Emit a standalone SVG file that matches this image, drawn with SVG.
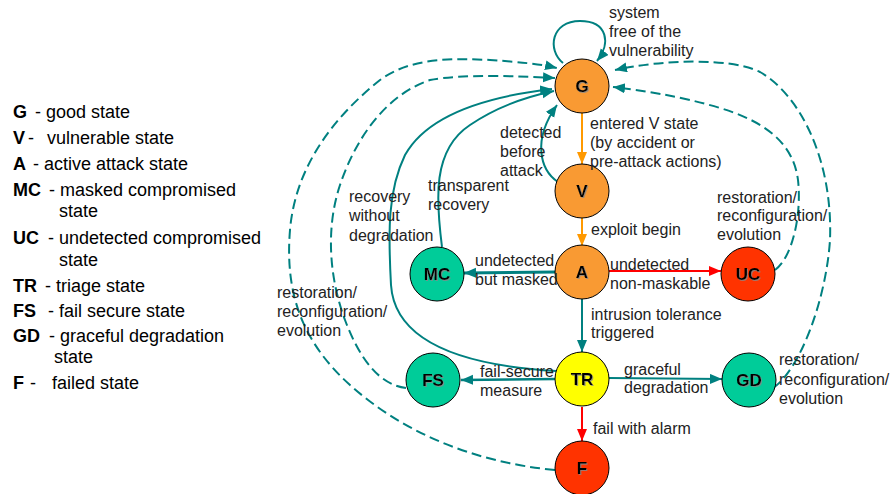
<svg xmlns="http://www.w3.org/2000/svg" width="891" height="494" viewBox="0 0 891 494">
  <style>
    .node circle { stroke: #000; stroke-width: 1; }
    .orange { fill: #F99A33; }
    .red { fill: #FF3300; }
    .green { fill: #00CC99; }
    .yellow { fill: #FFFF00; }
    .nlabel { font-family: "Liberation Sans", Arial, sans-serif; font-size: 17px; font-weight: bold; fill: #000; text-anchor: middle; filter: url(#shadow); }
    .lbl { font-family: "Liberation Sans", Arial, sans-serif; font-size: 16px; fill: #222; }
    .leg { font-family: "Liberation Sans", Arial, sans-serif; font-size: 18px; fill: #000; }
    .leg .b { font-weight: bold; }
    .teal { fill: none; stroke: #008080; stroke-width: 2; marker-end: url(#aTeal); }
    .dash { fill: none; stroke: #008080; stroke-width: 2; stroke-dasharray: 10 5; marker-end: url(#aTeal); }
    .org { fill: none; stroke: #FF9900; stroke-width: 2; marker-end: url(#aOrange); }
    .rd { fill: none; stroke: #FF0000; stroke-width: 2; marker-end: url(#aRed); }
  </style>
  <defs>
    <marker id="aTeal" markerUnits="userSpaceOnUse" markerWidth="13" markerHeight="11" refX="12" refY="5" orient="auto">
      <path d="M0,0 L12,5 L0,10 z" fill="#008080"/>
    </marker>
    <marker id="aOrange" markerUnits="userSpaceOnUse" markerWidth="13" markerHeight="11" refX="12" refY="5" orient="auto">
      <path d="M0,0 L12,5 L0,10 z" fill="#FF9900"/>
    </marker>
    <marker id="aRed" markerUnits="userSpaceOnUse" markerWidth="13" markerHeight="11" refX="12" refY="5" orient="auto">
      <path d="M0,0 L12,5 L0,10 z" fill="#FF0000"/>
    </marker>
    <filter id="shadow" x="-20%" y="-20%" width="140%" height="140%">
      <feDropShadow dx="1" dy="1" stdDeviation="0.4" flood-color="#888" flood-opacity="0.8"/>
    </filter>
  </defs>

  <!-- legend -->
  <g id="legend" class="leg">
    <text x="13" y="118"><tspan class="b">G</tspan><tspan x="35">- good state</tspan></text>
    <text x="13" y="144"><tspan class="b">V</tspan><tspan x="28">-</tspan><tspan x="47">vulnerable state</tspan></text>
    <text x="13" y="170"><tspan class="b">A</tspan><tspan x="33">- active attack state</tspan></text>
    <text x="13" y="196"><tspan class="b">MC</tspan><tspan x="49">- masked compromised</tspan></text>
    <text x="59" y="217">state</text>
    <text x="13" y="244"><tspan class="b">UC</tspan><tspan x="48">- undetected compromised</tspan></text>
    <text x="59" y="266">state</text>
    <text x="13" y="292"><tspan class="b">TR</tspan><tspan x="45">- triage state</tspan></text>
    <text x="13" y="317"><tspan class="b">FS</tspan><tspan x="48">- fail secure state</tspan></text>
    <text x="13" y="342"><tspan class="b">GD</tspan><tspan x="49">- graceful degradation</tspan></text>
    <text x="54" y="363">state</text>
    <text x="13" y="389"><tspan class="b">F</tspan><tspan x="30">-</tspan><tspan x="52">failed state</tspan></text>
  </g>

  <!-- connectors -->
  <g id="connectors">
    <!-- self loop on G -->
    <path class="teal" d="M563,63 C547,50 551,21 580,21 C608,21 611,44 597,61"/>
    <!-- G -> V -> A -->
    <path class="org" d="M582,113 L582,164"/>
    <path class="org" d="M582,218 L582,246"/>
    <!-- A -> UC, A -> MC, A -> TR -->
    <path class="rd" d="M609,271 L721,271"/>
    <path class="teal" style="stroke-width:3" d="M555,272 L464,273"/>
    <path class="teal" d="M582,299 L582,352"/>
    <!-- TR -> FS, TR -> GD, TR -> F -->
    <path class="teal" style="stroke-width:2.5" d="M555,379 L461,380"/>
    <path class="teal" d="M609,378 L722,379"/>
    <path class="rd" d="M582,407 L582,441"/>
    <!-- recovery back to G -->
    <path class="teal" d="M558,182 C540,170 532,140 557,105"/>
    <path class="teal" d="M442,247 C436,200 432,150 470,125 C495,108 525,97 554,91"/>
    <path class="teal" d="M556,371 C470,366 395,345 391,285 C388,230 388,190 405,155 C430,110 500,95 552,89"/>
    <!-- restoration / reconfiguration / evolution -->
    <path class="dash" d="M555,470 C470,462 400,430 350,385 C300,340 285,290 290,230 C295,170 330,120 380,80 C410,58 450,58 490,60 C520,62 540,64 557,68"/>
    <path class="dash" d="M406,388 C380,385 360,360 345,320 C330,280 325,230 340,185 C355,140 385,95 430,80 C460,74 520,76 555,78"/>
    <path class="dash" d="M775,270 C792,258 802,215 798,180 C793,140 760,120 720,108 C680,96 640,90 613,87"/>
    <path class="dash" d="M773,388 C800,370 826,300 830,240 C833,160 800,95 760,72 C730,57 660,60 615,70"/>
  </g>

  <!-- nodes -->
  <g id="G" class="node"><circle class="orange" cx="582" cy="86" r="27"/><text class="nlabel" x="582" y="92">G</text></g>
  <g id="V" class="node"><circle class="orange" cx="582" cy="191" r="27"/><text class="nlabel" x="582" y="197">V</text></g>
  <g id="A" class="node"><circle class="orange" cx="582" cy="272" r="27"/><text class="nlabel" x="582" y="278">A</text></g>
  <g id="MC" class="node"><circle class="green" cx="437" cy="274" r="27"/><text class="nlabel" x="437" y="280">MC</text></g>
  <g id="UC" class="node"><circle class="red" cx="748" cy="274" r="27"/><text class="nlabel" x="748" y="280">UC</text></g>
  <g id="TR" class="node"><circle class="yellow" cx="582" cy="379" r="27"/><text class="nlabel" x="582" y="385">TR</text></g>
  <g id="FS" class="node"><circle class="green" cx="433" cy="380" r="27"/><text class="nlabel" x="433" y="386">FS</text></g>
  <g id="GD" class="node"><circle class="green" cx="749" cy="380" r="27"/><text class="nlabel" x="749" y="386">GD</text></g>
  <g id="F" class="node"><circle class="red" cx="582" cy="468" r="27"/><text class="nlabel" x="582" y="474">F</text></g>

  <!-- edge labels -->
  <g id="labels" class="lbl">
    <text x="609" y="18">system</text>
    <text x="609" y="37">free of the</text>
    <text x="609" y="56">vulnerability</text>
    <text x="590" y="129">entered V state</text>
    <text x="590" y="148">(by accident or</text>
    <text x="590" y="167">pre-attack actions)</text>
    <text x="500" y="138">detected</text>
    <text x="500" y="157">before</text>
    <text x="500" y="176">attack</text>
    <text x="428" y="191">transparent</text>
    <text x="428" y="210">recovery</text>
    <text x="349" y="202">recovery</text>
    <text x="349" y="221">without</text>
    <text x="349" y="241">degradation</text>
    <text x="591" y="235">exploit begin</text>
    <text x="717" y="203">restoration/</text>
    <text x="717" y="221">reconfiguration/</text>
    <text x="717" y="240">evolution</text>
    <text x="475" y="266">undetected</text>
    <text x="475" y="285">but masked</text>
    <text x="610" y="270">undetected</text>
    <text x="610" y="289">non-maskable</text>
    <text x="277" y="298">restoration/</text>
    <text x="277" y="317">reconfiguration/</text>
    <text x="277" y="336">evolution</text>
    <text x="591" y="320">intrusion tolerance</text>
    <text x="591" y="338">triggered</text>
    <text x="480" y="377">fail-secure</text>
    <text x="480" y="396">measure</text>
    <text x="624" y="375">graceful</text>
    <text x="624" y="393">degradation</text>
    <text x="779" y="365">restoration/</text>
    <text x="779" y="385">reconfiguration/</text>
    <text x="779" y="404">evolution</text>
    <text x="593" y="434">fail with alarm</text>
  </g>
</svg>
